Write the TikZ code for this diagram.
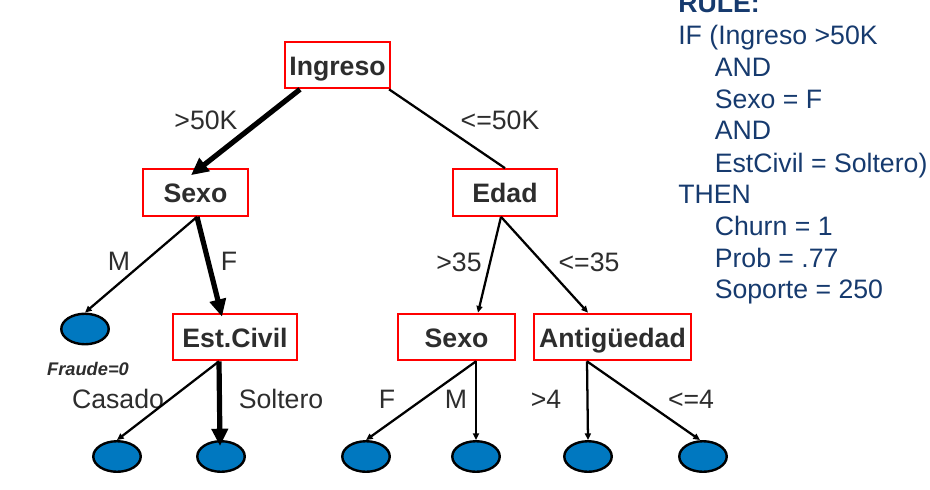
\documentclass[tikz,border=0pt]{standalone}
\usepackage{fontspec}
\setmainfont{Liberation Sans}
\usetikzlibrary{shapes.geometric, arrows.meta}

\definecolor{rulecol}{RGB}{22,58,110}
\definecolor{leafcol}{RGB}{0,120,192}
\definecolor{txtcol}{RGB}{45,45,45}

\begin{document}
\begin{tikzpicture}[x=0.75pt, y=-0.75pt,
  test/.style={draw=red, line width=1.6pt, fill=white, text=txtcol, inner sep=0pt,
    font=\fontsize{20}{24}\selectfont\bfseries, minimum height=34.9pt,
    text height=15pt, text depth=0pt},
  leaf/.style={ellipse, draw=black, line width=1.8pt, fill=leafcol, inner sep=0pt,
    minimum width=35.6pt, minimum height=22.9pt},
  lbl/.style={anchor=base, inner sep=0pt, text=txtcol, font=\fontsize{20}{24}\selectfont},
  rule/.style={anchor=base west, inner sep=0pt, text=rulecol, font=\fontsize{20}{24}\selectfont},
  thin arrow/.style={line width=1.7pt, -{Triangle[length=5pt,width=4.5pt]}},
  thick arrow/.style={line width=3.9pt, -{Triangle[length=13pt,width=12pt]}}]
\useasboundingbox (0,0) rectangle (930,489);

% tests
\node[test, minimum width=78.75pt] (ingreso) at (337.5,65) {Ingreso};
\node[test, minimum width=78.75pt] (sexoA) at (195.5,192.5) {Sexo};
\node[test, minimum width=78pt] (edad) at (505,192.5) {Edad};
\node[test, minimum width=93pt] (estcivil) at (235,337) {Est.Civil};
\node[test, minimum width=87.75pt] (sexoB) at (456.5,337) {Sexo};
\node[test, minimum width=117.75pt] (antig) at (612.5,337) {Antigüedad};

% leaves
\node[leaf] (leafM) at (85,329) {};
\node[leaf] (leafCas) at (117,456.5) {};
\node[leaf] (leafSol) at (221,456.5) {};
\node[leaf] (leafF) at (366,456.5) {};
\node[leaf] (leafMb) at (476,456.5) {};
\node[leaf] (leafG4) at (588,456.5) {};
\node[leaf] (leafL4) at (703,456.5) {};

% branch labels
\node[lbl] (lgt50) at (206,129) {>50K};
\node[lbl] (lle50) at (500,129) {<=50K};
\node[lbl] (lM) at (119,270) {M};
\node[lbl] (lF) at (229,270) {F};
\node[lbl] (lgt35) at (459,271) {>35};
\node[lbl] (lle35) at (589,271) {<=35};
\node[lbl] (lcas) at (118,408) {Casado};
\node[lbl] (lsol) at (281,408) {Soltero};
\node[lbl] (lFb) at (387,408) {F};
\node[lbl] (lMb) at (456,408) {M};
\node[lbl] (lgt4) at (546,408) {>4};
\node[lbl] (lle4) at (691,408) {<=4};
\node[anchor=base, inner sep=0pt, text=txtcol, font=\fontsize{13.7}{16}\selectfont\bfseries\itshape] (fraude) at (88,375) {Fraude=0};

% branches
\draw[thick arrow] ([shift={(-37.5,0)}]ingreso.south) -- ([shift={(-4.5,7)}]sexoA.north);
\draw[line width=1.7pt] ([shift={(-2,0)}]ingreso.south east) -- (edad.north);
\draw[thin arrow] ([shift={(1.5,0)}]sexoA.south) -- (leafM.north);
\draw[thick arrow] ([shift={(1.5,0)}]sexoA.south) -- ([shift={(-13,4)}]estcivil.north);
\draw[thin arrow] ([shift={(-4,0)}]edad.south) -- ([shift={(21.5,0)}]sexoB.north);
\draw[thin arrow] ([shift={(-4,0)}]edad.south) -- ([shift={(-24.5,0)}]antig.north);
\draw[thin arrow] ([shift={(-16,0)}]estcivil.south) -- (leafCas.north);
\draw[thick arrow] ([shift={(-16,0)}]estcivil.south) -- ([shift={(-1,6)}]leafSol.north);
\draw[thin arrow] ([shift={(19.5,0)}]sexoB.south) -- (leafF.north);
\draw[thin arrow] ([shift={(19.5,0)}]sexoB.south) -- (leafMb.north);
\draw[thin arrow] ([shift={(-25.5,0)}]antig.south) -- (leafG4.north);
\draw[thin arrow] ([shift={(-25.5,0)}]antig.south) -- ([shift={(-3,0)}]leafL4.north);

% rule
\node[rule, font=\fontsize{20}{24}\selectfont\bfseries] (r0) at (678,12.25) {RULE:};
\node[rule] (r1) at (678,44) {IF (Ingreso >50K};
\node[rule] (r2) at (714.5,76) {AND};
\node[rule] (r3) at (714.5,108) {Sexo = F};
\node[rule] (r4) at (714.5,139) {AND};
\node[rule] (r5) at (714.5,172) {EstCivil = Soltero)};
\node[rule] (r6) at (678,203) {THEN};
\node[rule] (r7) at (714.5,235) {Churn = 1};
\node[rule] (r8) at (714.5,267) {Prob = .77};
\node[rule] (r9) at (714.5,298) {Soporte = 250};
\end{tikzpicture}
\end{document}
